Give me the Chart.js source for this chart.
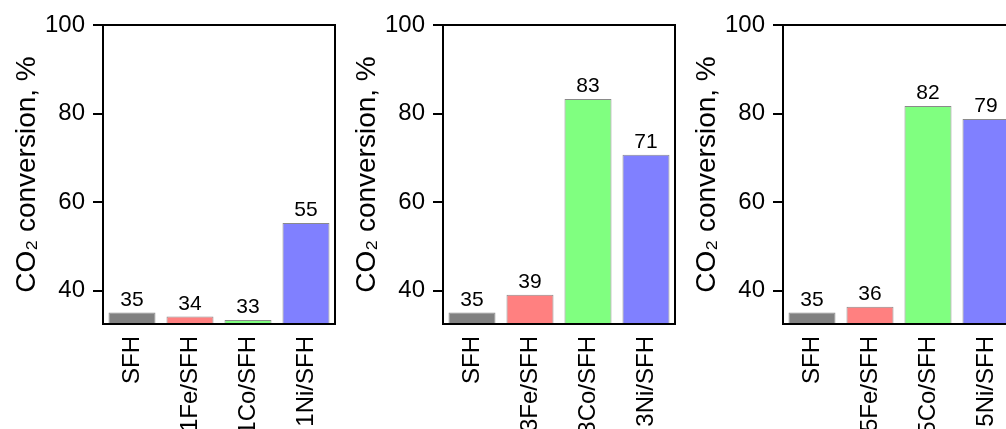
<!DOCTYPE html>
<html>
<head>
<meta charset="utf-8">
<script src="https://cdn.jsdelivr.net/npm/chart.js@4/dist/chart.umd.min.js"></script>
<style>
    html, body { margin: 0; padding: 0; background: #fff; }
    body { width: 1006px; height: 429px; overflow: hidden; position: relative; }
    .painel { position: absolute; top: 0; width: 345px; height: 429px; }
</style>
</head>
<body>
<div class="painel" style="left:0px"><canvas id="grafico1"></canvas></div>
<div class="painel" style="left:340px"><canvas id="grafico3"></canvas></div>
<div class="painel" style="left:680px"><canvas id="grafico5"></canvas></div>
<script>
const categorias1 = ['SFH', '1Fe/SFH', '1Co/SFH', '1Ni/SFH'];
const valores1 = [35.1, 34.2, 33.4, 55.3];

const categorias3 = ['SFH', '3Fe/SFH', '3Co/SFH', '3Ni/SFH'];
const valores3 = [35.1, 39.1, 83.3, 70.7];

const categorias5 = ['SFH', '5Fe/SFH', '5Co/SFH', '5Ni/SFH'];
const valores5 = [35.1, 36.4, 81.7, 78.8];

const ticksY = [40, 60, 80, 100];
const coresBarras = ['#808080', '#ff8080', '#80ff80', '#8080ff'];
const tituloY = 'CO\u2082 conversion, %';

Chart.defaults.font.family = "'Liberation Sans', Arial, sans-serif";
Chart.defaults.color = '#000';

// moldura em volta da area do grafico
const molduraPlugin = {
    id: 'moldura',
    afterDraw(chart) {
        const { ctx, chartArea } = chart;
        ctx.save();
        ctx.strokeStyle = '#000';
        ctx.lineWidth = 2;
        ctx.strokeRect(chartArea.left, chartArea.top, chartArea.right - chartArea.left, chartArea.bottom - chartArea.top);
        ctx.restore();
    }
};

// valores em cima das barras
const rotulosPlugin = {
    id: 'rotulos',
    afterDatasetsDraw(chart) {
        const { ctx } = chart;
        const meta = chart.getDatasetMeta(0);
        const dados = chart.data.datasets[0].data;
        ctx.save();
        ctx.font = "21px 'Liberation Sans', Arial, sans-serif";
        ctx.fillStyle = '#000';
        ctx.textAlign = 'center';
        ctx.textBaseline = 'bottom';
        meta.data.forEach((barra, i) => {
            ctx.fillText(String(Math.round(dados[i])), barra.x, barra.y - 2);
        });
        ctx.restore();
    }
};

function criarGrafico(id, categorias, valores) {
    const ctx = document.getElementById(id).getContext('2d');
    return new Chart(ctx, {
        type: 'bar',
        data: {
            labels: categorias,
            datasets: [{
                data: valores,
                backgroundColor: coresBarras,
                borderColor: '#8a8a8a',
                borderWidth: 1,
                barPercentage: 0.81,
                categoryPercentage: 1.0
            }]
        },
        options: {
            responsive: true,
            maintainAspectRatio: false,
            animation: false,
            layout: { padding: { top: 25, right: 10, left: 0, bottom: 0 } },
            plugins: {
                legend: { display: false },
                tooltip: { enabled: false }
            },
            scales: {
                x: {
                    grid: { display: false, drawTicks: false },
                    border: { color: '#000', width: 2 },
                    ticks: {
                        font: { size: 24 },
                        maxRotation: 90,
                        minRotation: 90,
                        padding: 12,
                        autoSkip: false
                    },
                    afterFit(scale) {
                        scale.height = 105;
                        scale.paddingLeft = 0;
                        scale.paddingRight = 0;
                    }
                },
                y: {
                    min: 32.5,
                    max: 100,
                    grid: {
                        drawOnChartArea: false,
                        color: '#000',
                        lineWidth: 2,
                        tickLength: 10
                    },
                    border: { color: '#000', width: 2 },
                    ticks: { font: { size: 24 }, padding: 8 },
                    afterBuildTicks(scale) {
                        scale.ticks = ticksY.map(v => ({ value: v }));
                    },
                    afterFit(scale) {
                        scale.width = 103;
                        scale.paddingTop = 0;
                        scale.paddingBottom = 0;
                    },
                    title: {
                        display: true,
                        text: tituloY,
                        font: { size: 28 },
                        padding: { top: 10, bottom: 0 }
                    }
                }
            }
        },
        plugins: [molduraPlugin, rotulosPlugin]
    });
}

criarGrafico('grafico1', categorias1, valores1);
criarGrafico('grafico3', categorias3, valores3);
criarGrafico('grafico5', categorias5, valores5);
</script>
</body>
</html>
